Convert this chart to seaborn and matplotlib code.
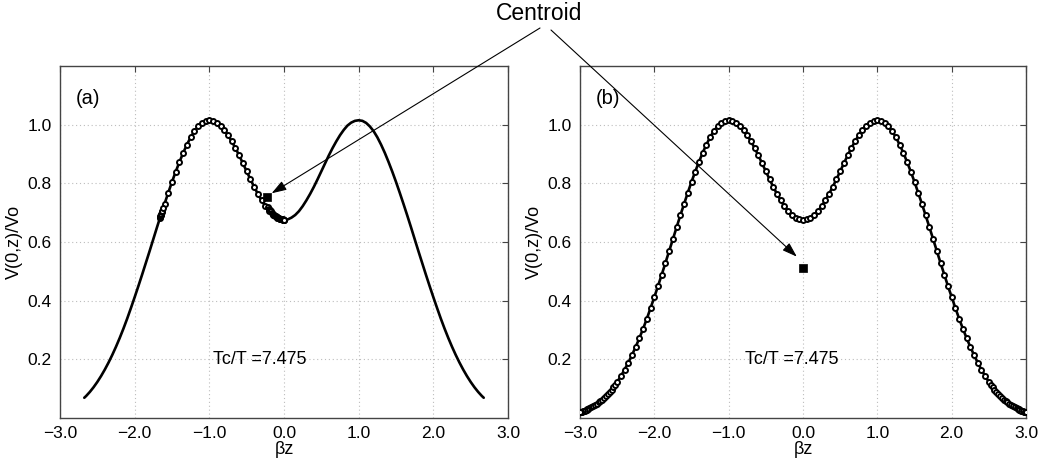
import numpy as np
import pandas as pd
import matplotlib
matplotlib.use("Agg")
import matplotlib.pyplot as plt
import seaborn as sns

# ---- data ----
# half of the symmetric potential curve V(0,z)/Vo, z >= 0
z_half = [0.00, 0.05, 0.10, 0.15, 0.20, 0.25, 0.30, 0.35, 0.40, 0.45,
          0.50, 0.55, 0.60, 0.65, 0.70, 0.75, 0.80, 0.85, 0.90, 0.95,
          1.00, 1.05, 1.10, 1.15, 1.20, 1.25, 1.30, 1.35, 1.40, 1.45,
          1.50, 1.55, 1.60, 1.65, 1.70, 1.75, 1.80, 1.85, 1.90, 1.95,
          2.00, 2.05, 2.10, 2.15, 2.20, 2.25, 2.30, 2.35, 2.40, 2.45,
          2.50, 2.525, 2.55, 2.575, 2.60, 2.625, 2.65, 2.675, 2.70, 2.725,
          2.75, 2.775, 2.80, 2.825, 2.85, 2.875, 2.90, 2.925, 2.95, 2.975,
          3.00]
v_half = [0.675, 0.677, 0.683, 0.692, 0.705, 0.722, 0.742, 0.764, 0.788, 0.814,
          0.841, 0.868, 0.895, 0.920, 0.943, 0.964, 0.982, 0.997, 1.007, 1.013,
          1.015, 1.013, 1.006, 0.994, 0.978, 0.957, 0.932, 0.904, 0.873, 0.840,
          0.805, 0.768, 0.730, 0.691, 0.651, 0.610, 0.569, 0.529, 0.489, 0.450,
          0.412, 0.375, 0.339, 0.305, 0.273, 0.243, 0.215, 0.189, 0.165, 0.143,
          0.123, 0.114, 0.105, 0.097, 0.089, 0.082, 0.075, 0.069, 0.063, 0.058,
          0.053, 0.048, 0.044, 0.040, 0.036, 0.033, 0.030, 0.027, 0.024, 0.021,
          0.019]

# extra trajectory points (turning-point clusters) in panel (a)
a_cluster_z = [-1.665, -1.66, -1.655, -1.65, -1.645, -1.64, -1.635, -1.62,
               -0.22, -0.205, -0.19, -0.175, -0.16, -0.145, -0.13, -0.12, -0.11, -0.10,
               -0.09, -0.08, -0.07, -0.06, -0.05, -0.04, -0.035, -0.025, -0.02,
               -0.015, -0.01, -0.005, 0.0]
a_cluster_v = [0.681, 0.685, 0.689, 0.693, 0.697, 0.701, 0.705, 0.717,
               0.719, 0.714, 0.710, 0.704, 0.699, 0.695, 0.692, 0.690, 0.688, 0.686,
               0.684, 0.682, 0.681, 0.680, 0.679, 0.678, 0.678, 0.677, 0.677,
               0.676, 0.676, 0.675, 0.675]
# extra trajectory points near the turning points of panel (b), z > 0 side
b_end_z = [2.8875, 2.9125, 2.9375, 2.9625, 2.98, 2.99, 2.995]
b_end_v = [0.0315, 0.0285, 0.0255, 0.0225, 0.0205, 0.0195, 0.019]

a_traj_range = (-1.675, 0.0)     # trajectory extent in (a)
a_line_range = (-2.68, 2.68)     # extent of the drawn curve in (a)

centroid_a = (-0.233, 0.754)
centroid_b = (0.0, 0.510)
arrow_tip_a = (-0.166, 0.766)
arrow_tip_b = (-0.083, 0.550)

xticks = [-3, -2, -1, 0, 1, 2, 3]
xtick_labels = ["\u22123.0", "\u22122.0", "\u22121.0", "0.0", "1.0", "2.0", "3.0"]
yticks = [0.2, 0.4, 0.6, 0.8, 1.0]
ytick_labels = ["0.2", "0.4", "0.6", "0.8", "1.0"]
panel_labels = ["(a)", "(b)"]
ratio_text = "Tc/T =7.475"

# ---- build tables ----
zh = np.array(z_half)
vh = np.array(v_half)
curve = pd.DataFrame({"z": np.concatenate([-zh[::-1], zh[1:]]),
                      "v": np.concatenate([vh[::-1], vh[1:]])})
curve_a = curve[(curve.z >= a_line_range[0]) & (curve.z <= a_line_range[1])]
traj_a = pd.concat([curve[(curve.z >= a_traj_range[0]) & (curve.z <= a_traj_range[1])],
                    pd.DataFrame({"z": a_cluster_z, "v": a_cluster_v})])
be_z = np.array(b_end_z)
be_v = np.array(b_end_v)
traj_b = pd.concat([curve,
                    pd.DataFrame({"z": np.concatenate([-be_z, be_z]),
                                  "v": np.concatenate([be_v, be_v])})])

sns.set_style("white")
plt.rcParams["font.family"] = ["Liberation Sans", "DejaVu Sans"]
plt.rcParams["text.color"] = "black"
plt.rcParams["axes.labelcolor"] = "black"
plt.rcParams["xtick.color"] = "black"
plt.rcParams["ytick.color"] = "black"

W, H = 1044, 466
fig = plt.figure(figsize=(W / 100, H / 100), dpi=100)
ax_a = fig.add_axes([60 / W, 48 / H, 448 / W, 352 / H])
ax_b = fig.add_axes([580 / W, 48 / H, 446 / W, 352 / H])

spine_c = "#444444"
for ax, line_df, traj_df, cen, lab in [(ax_a, curve_a, traj_a, centroid_a, panel_labels[0]),
                                         (ax_b, curve, traj_b, centroid_b, panel_labels[1])]:
    sns.lineplot(data=line_df, x="z", y="v", sort=False, estimator=None,
                 color="black", lw=1.9, ax=ax, zorder=2)
    sns.scatterplot(data=traj_df, x="z", y="v", marker="o", s=13, color="white",
                    edgecolor="black", linewidth=1.4, ax=ax, zorder=3)
    sns.scatterplot(x=[cen[0]], y=[cen[1]], marker="s", s=30, color="black",
                    edgecolor="black", linewidth=0.5, ax=ax, zorder=4)
    ax.set_xlim(-3, 3)
    ax.set_ylim(0, 1.2)
    ax.set_xticks(xticks)
    ax.set_xticklabels(xtick_labels)
    ax.set_yticks(yticks)
    ax.set_yticklabels(ytick_labels)
    ax.grid(True, color="#bdbdbd", linestyle=(0, (1, 2.5)), lw=0.8)
    ax.tick_params(direction="in", length=4, width=0.8, top=True, right=True,
                   labelsize=12.5, pad=6, color=spine_c, labelcolor="black")
    for s in ax.spines.values():
        s.set_color(spine_c)
        s.set_linewidth(1.0)
    ax.set_xlabel("\u03b2z", fontsize=13, labelpad=0)
    ax.set_ylabel("V(0,z)/Vo", fontsize=13, labelpad=3)
    ax.text(-2.79, 1.09, lab, fontsize=14.5, va="center", ha="left")

ax_a.text(-0.95, 0.198, ratio_text, fontsize=13, va="center", ha="left")
ax_b.text(-0.78, 0.198, ratio_text, fontsize=13, va="center", ha="left")

arrow_style = dict(arrowstyle="-|>,head_length=0.9,head_width=0.3", color="black",
                   lw=0.8, shrinkA=0, shrinkB=0)
ax_a.annotate("", xy=arrow_tip_a, xycoords="data", xytext=(540, H - 28),
              textcoords="figure pixels", arrowprops=arrow_style, zorder=5)
ax_b.annotate("", xy=arrow_tip_b, xycoords="data", xytext=(551, H - 30),
              textcoords="figure pixels", arrowprops=arrow_style, zorder=5)

fig.text(539 / W, 1 - 13 / H, "Centroid", fontsize=16.5, ha="center", va="center")

fig.savefig("out.png", dpi=100)
